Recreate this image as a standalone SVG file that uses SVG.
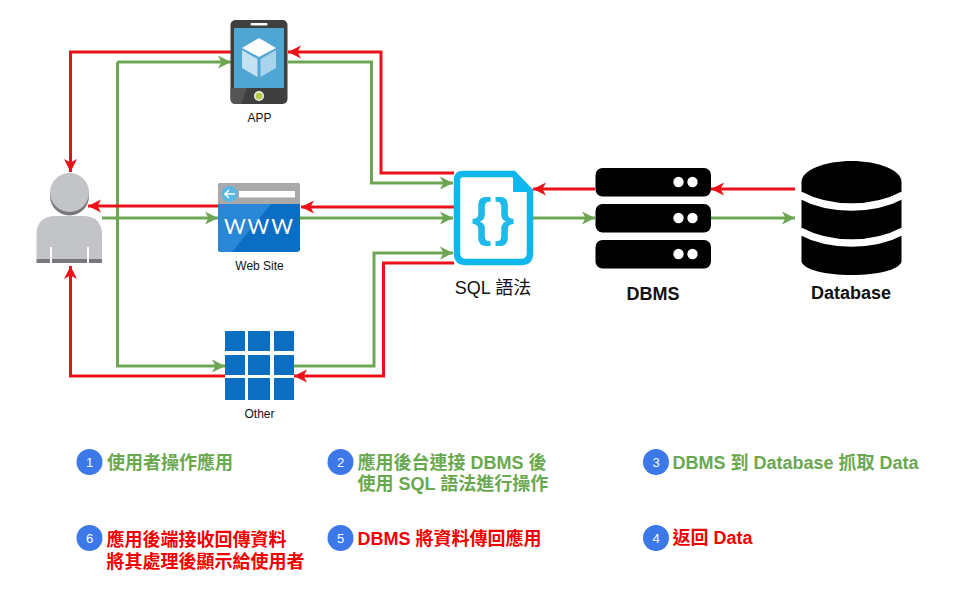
<svg xmlns="http://www.w3.org/2000/svg" width="958" height="598" viewBox="0 0 958 598">
<style>
.r{fill:none;stroke:#ea1218;stroke-width:3}
.g{fill:none;stroke:#6ca653;stroke-width:3}
.l{font-family:"Liberation Sans","Noto Sans CJK TC",sans-serif;fill:#111;text-anchor:middle}
.t{font-family:"Liberation Sans","Noto Sans CJK TC",sans-serif;font-size:18px;font-weight:700}
.tg{fill:#6aa84f}
.tr{fill:#f00000}
.n{font-family:"Liberation Sans",sans-serif;font-size:13px;fill:#fff;text-anchor:middle}
.c{fill:#3c78e8}
.b{fill:#000}
.d{fill:#fff}
</style>
<defs>
<marker id="ar" markerUnits="userSpaceOnUse" markerWidth="16" markerHeight="16" refX="13" refY="8" orient="auto"><path d="M0 1.500 L13 8 L0 14.500 L3.500 8Z" fill="#ea1218"/></marker>
<marker id="ag" markerUnits="userSpaceOnUse" markerWidth="16" markerHeight="16" refX="13" refY="8" orient="auto"><path d="M0 1.500 L13 8 L0 14.500 L3.500 8Z" fill="#6ca653"/></marker>
</defs>
<g id="connectors">
<path class="r" marker-end="url(#ar)" d="M231 52H70.500V172"/>
<path class="g" d="M117.500 218V62" />
<path class="g" marker-end="url(#ag)" d="M117.500 62H231"/>
<path class="g" marker-end="url(#ag)" d="M117.500 218V366H225"/>
<path class="r" marker-end="url(#ar)" d="M454 173H381V52H288"/>
<path class="g" marker-end="url(#ag)" d="M288 62H371.500V183H453"/>
<path class="r" marker-end="url(#ar)" d="M454 207H301"/>
<path class="r" marker-end="url(#ar)" d="M218 206H88"/>
<path class="g" marker-end="url(#ag)" d="M102 218H218"/>
<path class="g" marker-end="url(#ag)" d="M300 218H453"/>
<path class="g" marker-end="url(#ag)" d="M294 366H374V253H453"/>
<path class="r" marker-end="url(#ar)" d="M454 263H383.500V376H294"/>
<path class="r" marker-end="url(#ar)" d="M225 376H70.500V266"/>
<path class="g" marker-end="url(#ag)" d="M533 218H595"/>
<path class="r" marker-end="url(#ar)" d="M595 189H533"/>
<path class="r" marker-end="url(#ar)" d="M795 189H711"/>
<path class="g" marker-end="url(#ag)" d="M711 218H795"/>
</g>
<g id="app">
<rect x="230.500" y="20" width="57" height="84" rx="5" fill="#3f3f3f"/>
<path d="M230.500 88H247L241 104H235.500Q230.500 104 230.500 99Z" fill="#555"/>
<rect x="234" y="28" width="50" height="60" fill="#4fa6d3"/>
<rect x="250.500" y="23" width="17" height="2.500" rx="1" fill="#fff"/>
<circle cx="259" cy="96" r="5" fill="#f2f2f2"/><circle cx="259" cy="96" r="3.500" fill="#b3c94a"/>
<path d="M259 38L276 48L259 57L242 48Z" fill="#fff"/>
<path d="M242 50L257.500 59V77L242 68Z" fill="#c5e2f2"/>
<path d="M276 50L260.500 59V77L276 68Z" fill="#a7d3ec"/>
<text class="l" x="259.500" y="122" font-size="12">APP</text>
</g>
<g id="website">
<rect x="218" y="183" width="82" height="69" rx="3" fill="#0b6ec5"/>
<path d="M218 203H272L232 252H221Q218 252 218 249Z" fill="#2a86d6"/>
<path d="M221 183H297Q300 183 300 186V204H218V186Q218 183 221 183Z" fill="#a9a9a9"/>
<circle cx="229.500" cy="194" r="8" fill="#5ab7e3"/>
<path d="M235 194H225M229 190L225 194L229 198" fill="none" stroke="#fff" stroke-width="1.600"/>
<rect x="239" y="191" width="56" height="6.500" fill="#fff"/>
<text x="259.500" y="234" font-family="Lato,Liberation Sans,sans-serif" font-size="21" font-weight="400" letter-spacing="2" fill="#fff" text-anchor="middle">WWW</text>
<text class="l" x="259.500" y="270" font-size="12">Web Site</text>
</g>
<g id="other" fill="#0b6ec0">
<rect x="225" y="331" width="20" height="20"/><rect x="248" y="331" width="22" height="20"/><rect x="274" y="331" width="20" height="20"/>
<rect x="225" y="355" width="20" height="20"/><rect x="248" y="355" width="22" height="20"/><rect x="274" y="355" width="20" height="20"/>
<rect x="225" y="378" width="20" height="22"/><rect x="248" y="378" width="22" height="22"/><rect x="274" y="378" width="20" height="22"/>
<text class="l" x="259.500" y="418" font-size="12">Other</text>
</g>
<g id="user">
<circle cx="69.500" cy="196" r="19.500" fill="#77787b"/>
<circle cx="69.500" cy="192.500" r="19.500" fill="#c3c4c7"/>
<path d="M36.500 259V235Q36.500 216 56 216H83Q102 216 102 235V259Z" fill="#c3c4c7"/>
<rect x="36.500" y="259" width="65.500" height="4" fill="#77787b"/>
<path d="M50 263V247H52V263ZM87 263V247H89V263Z" fill="#fff"/>
</g>
<g id="sql">
<path d="M463 174H513.500L530 191V253Q530 262 521 262H466Q457 262 457 253V180Q457 174 463 174Z" fill="#fff" stroke="#0fb7ee" stroke-width="6.500"/>
<path d="M513 173L532 192H513Z" fill="#0fb7ee"/>
<text x="494.500" y="235" font-family="Liberation Sans,sans-serif" font-size="51" font-weight="700" letter-spacing="3" fill="#1fb9ec" text-anchor="middle">{}</text>
<text class="l" x="493" y="294" font-size="18">SQL 語法</text>
</g>
<g id="dbms">
<rect class="b" x="595.500" y="168" width="115.500" height="28.500" rx="7"/>
<rect class="b" x="595.500" y="204" width="115.500" height="28.500" rx="7"/>
<rect class="b" x="595.500" y="240" width="115.500" height="28.500" rx="7"/>
<circle class="d" cx="678.500" cy="182" r="5.200"/><circle class="d" cx="692.500" cy="182" r="5.200"/>
<circle class="d" cx="678.500" cy="218" r="5.200"/><circle class="d" cx="692.500" cy="218" r="5.200"/>
<circle class="d" cx="678.500" cy="254" r="5.200"/><circle class="d" cx="692.500" cy="254" r="5.200"/>
<text class="l" x="653" y="300" font-size="18" font-weight="700">DBMS</text>
</g>
<g id="database">
<path class="b" d="M801.500 182V262C805 270 825 275 851.500 275C878 275 898 270 901.500 262V182C901.500 170 878 161 851.500 161C825 161 801.500 170 801.500 182Z"/>
<path d="M800 195C815 203 830 207 851.500 207C873 207 888 203 903 195M800 231C815 239 830 243 851.500 243C873 243 888 239 903 231" fill="none" stroke="#fff" stroke-width="7.500"/>
<text class="l" x="851" y="299" font-size="18" font-weight="700">Database</text>
</g>
<g id="step1"><circle class="c" cx="89.500" cy="462" r="13"/><text class="n" x="89.500" y="467">1</text><text class="t tg" x="107" y="469">使用者操作應用</text></g>
<g id="step2"><circle class="c" cx="340.500" cy="462" r="13"/><text class="n" x="340.500" y="467">2</text><text class="t tg" x="357.500" y="469">應用後台連接 DBMS 後</text><text class="t tg" x="357.500" y="490">使用 SQL 語法進行操作</text></g>
<g id="step3"><circle class="c" cx="656" cy="462" r="13"/><text class="n" x="656" y="467">3</text><text class="t tg" x="672.500" y="469">DBMS 到 Database 抓取 Data</text></g>
<g id="step6"><circle class="c" cx="89.500" cy="538" r="13"/><text class="n" x="89.500" y="543">6</text><text class="t tr" x="106.500" y="546">應用後端接收回傳資料</text><text class="t tr" x="106.500" y="568">將其處理後顯示給使用者</text></g>
<g id="step5"><circle class="c" cx="340.500" cy="538" r="13"/><text class="n" x="340.500" y="543">5</text><text class="t tr" x="357.500" y="545">DBMS 將資料傳回應用</text></g>
<g id="step4"><circle class="c" cx="656" cy="538" r="13"/><text class="n" x="656" y="543">4</text><text class="t tr" x="672.500" y="544">返回 Data</text></g>
</svg>
